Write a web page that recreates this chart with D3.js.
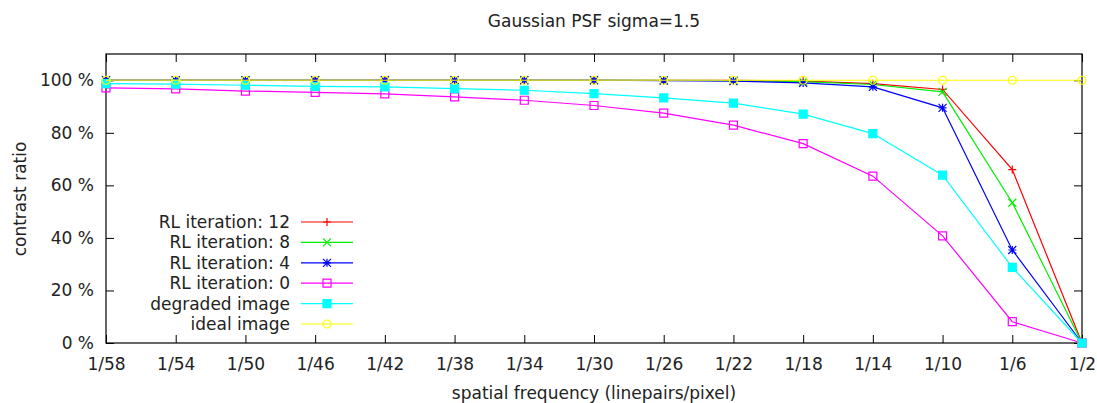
<!DOCTYPE html>
<html>
<head>
<meta charset="utf-8">
<script src="https://cdn.jsdelivr.net/npm/d3@7"></script>
<style>
  html, body { margin: 0; padding: 0; background: #fff; }
  svg { display: block; font-family: "DejaVu Sans", sans-serif; }
</style>
</head>
<body>
<div id="chart"></div>
<script>
// spatial frequency categories (linepairs/pixel)
const frequencies = ["1/58", "1/54", "1/50", "1/46", "1/42", "1/38", "1/34", "1/30",
  "1/26", "1/22", "1/18", "1/14", "1/10", "1/6", "1/2"]

// contrast ratio in percent
const rl12     = [100, 100, 100, 100, 100, 100, 100, 100, 100, 100, 99.7, 98.7, 96.5, 66.0, 0]
const rl8      = [100, 100, 100, 100, 100, 100, 100, 100, 100, 99.9, 99.5, 98.4, 95.6, 53.4, 0]
const rl4      = [100, 100, 100, 100, 100, 100, 100, 100, 99.9, 99.7, 99.0, 97.5, 89.5, 35.4, 0]
const rl0      = [97.1, 96.7, 95.9, 95.4, 94.8, 93.7, 92.4, 90.4, 87.5, 82.9, 75.9, 63.5, 40.8, 8.1, 0]
const degraded = [98.7, 98.5, 98.1, 97.7, 97.5, 96.8, 96.2, 94.9, 93.3, 91.3, 87.1, 79.7, 63.9, 28.8, 0]
const ideal    = [100, 100, 100, 100, 100, 100, 100, 100, 100, 100, 100, 100, 100, 100, 100]

const yTicks = [0, 20, 40, 60, 80, 100]

const series = [
  { name: "RL iteration: 12", values: rl12, color: "#ff0000", marker: "plus" },
  { name: "RL iteration: 8", values: rl8, color: "#00ee00", marker: "cross" },
  { name: "RL iteration: 4", values: rl4, color: "#0000ff", marker: "star" },
  { name: "RL iteration: 0", values: rl0, color: "#ff00ff", marker: "box" },
  { name: "degraded image", values: degraded, color: "#00ffff", marker: "fbox" },
  { name: "ideal image", values: ideal, color: "#ffff00", marker: "circle" }
]

const width = 1097
const height = 403
const margin = { top: 54, right: 15, bottom: 60, left: 106 }
const fontSize = "17px"

const svg = d3.select("#chart")
  .append("svg")
  .attr("width", width)
  .attr("height", height)

const x = d3.scalePoint()
  .domain(frequencies)
  .range([margin.left, width - margin.right])

const y = d3.scaleLinear()
  .domain([0, 110])
  .range([height - margin.bottom, margin.top])

// Ticks (gnuplot style, mirrored and pointing inward)
svg.append("g")
  .attr("transform", `translate(0,${y(0)})`)
  .call(d3.axisBottom(x).tickSize(-8).tickPadding(15))
svg.append("g")
  .attr("transform", `translate(0,${y(110)})`)
  .call(d3.axisTop(x).tickSize(-8).tickFormat(""))
svg.append("g")
  .attr("transform", `translate(${x(frequencies[0])},0)`)
  .call(d3.axisLeft(y).tickValues(yTicks).tickSize(-8).tickPadding(12).tickFormat(d => d + " %"))
svg.append("g")
  .attr("transform", `translate(${x(frequencies[frequencies.length - 1])},0)`)
  .call(d3.axisRight(y).tickValues(yTicks).tickSize(-8).tickFormat(""))

svg.selectAll(".domain").remove()
svg.selectAll(".tick line").attr("stroke", "#000").attr("stroke-width", 1)
svg.selectAll(".tick text")
  .attr("fill", "#222")
  .attr("font-size", fontSize)
  .attr("font-family", "DejaVu Sans, sans-serif")

// Border
svg.append("rect")
  .attr("x", x(frequencies[0]))
  .attr("y", y(110))
  .attr("width", x(frequencies[frequencies.length - 1]) - x(frequencies[0]))
  .attr("height", y(0) - y(110))
  .attr("fill", "none")
  .attr("stroke", "#000")
  .attr("stroke-width", 1.2)

// Marker shapes
function markerPath(type) {
  const s = 4
  switch (type) {
    case "plus": return `M${-s},0H${s}M0,${-s}V${s}`
    case "cross": return `M${-s},${-s}L${s},${s}M${-s},${s}L${s},${-s}`
    case "star": return `M${-s},0H${s}M0,${-s}V${s}M${-s},${-s}L${s},${s}M${-s},${s}L${s},${-s}`
    case "box": return `M${-s},${-s}H${s}V${s}H${-s}Z`
    case "fbox": return `M${-s},${-s}H${s}V${s}H${-s}Z`
    case "circle": return d3.arc()({ innerRadius: 0, outerRadius: s, startAngle: 0, endAngle: 2 * Math.PI })
  }
}

function drawMarker(g, type, color) {
  g.append("path")
    .attr("d", markerPath(type))
    .attr("fill", type === "fbox" ? color : "none")
    .attr("stroke", color)
    .attr("stroke-width", 1.2)
}

const line = d3.line()
  .x((d, i) => x(frequencies[i]))
  .y(d => y(d))

// Series lines + markers
series.forEach(s => {
  svg.append("path")
    .datum(s.values)
    .attr("d", line)
    .attr("fill", "none")
    .attr("stroke", s.color)
    .attr("stroke-width", 1.2)

  s.values.forEach((v, i) => {
    const g = svg.append("g").attr("transform", `translate(${x(frequencies[i])},${y(v)})`)
    drawMarker(g, s.marker, s.color)
  })
})

// Legend
const legendX = 290
const legendY = 222
const legendStep = 20.4
series.forEach((s, i) => {
  const ly = legendY + i * legendStep
  svg.append("text")
    .attr("x", legendX)
    .attr("y", ly)
    .attr("dy", "0.35em")
    .attr("text-anchor", "end")
    .attr("font-size", fontSize)
    .attr("fill", "#222")
    .text(s.name)
  svg.append("line")
    .attr("x1", legendX + 11)
    .attr("x2", legendX + 63)
    .attr("y1", ly)
    .attr("y2", ly)
    .attr("stroke", s.color)
    .attr("stroke-width", 1.2)
  const g = svg.append("g").attr("transform", `translate(${legendX + 37},${ly})`)
  drawMarker(g, s.marker, s.color)
})

// Title and axis labels
svg.append("text")
  .attr("x", 594)
  .attr("y", 27)
  .attr("text-anchor", "middle")
  .attr("font-size", fontSize)
  .attr("fill", "#222")
  .text("Gaussian PSF sigma=1.5")

svg.append("text")
  .attr("x", 594)
  .attr("y", 399)
  .attr("text-anchor", "middle")
  .attr("font-size", fontSize)
  .attr("fill", "#222")
  .text("spatial frequency (linepairs/pixel)")

svg.append("text")
  .attr("transform", `translate(26,${199}) rotate(-90)`)
  .attr("text-anchor", "middle")
  .attr("font-size", fontSize)
  .attr("fill", "#222")
  .text("contrast ratio")
</script>
</body>
</html>
